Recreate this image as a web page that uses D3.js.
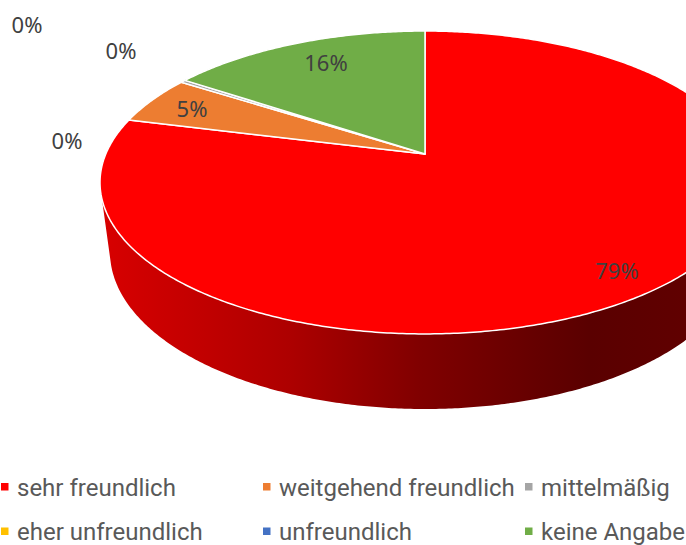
<!DOCTYPE html>
<html>
<head>
<meta charset="utf-8">
<script src="https://cdn.jsdelivr.net/npm/d3@7"></script>
<style>
  html, body { margin: 0; padding: 0; background: #fff; overflow: hidden; }
</style>
</head>
<body>
<div id="chart"></div>
<script>
// Chart data
const categories = ["sehr freundlich", "weitgehend freundlich", "mittelmäßig", "eher unfreundlich", "unfreundlich", "keine Angabe"];
const shares = [78.9, 5.2, 0.3, 0, 0, 15.6];
const colors = ["#ff0000", "#ed7d31", "#a5a5a5", "#ffc000", "#4472c4", "#70ad47"];

// Set up dimensions
const width = 686;
const height = 545;

// Top face is a circle seen in perspective, so the pie centre sits above the ellipse centre
const centerX = 425;
const centerY = 154;
const persp = 0.188;
const radiusX = 319.2;
const radiusY = 146.1;

// Lower rim of the side wall
const rimRx = 315;
const rimRy = 157;
const rimCy = 252;

// Where each data label sits (hand placed in the original)
const labelX = [617, 192, 67, 27, 121, 326];
const labelY = [271, 109, 141, 25, 51, 63];

// Legend layout
const legendX = [1, 263, 525];
const legendY = [487, 531.5];

const svg = d3.select("#chart")
  .append("svg")
    .attr("width", width)
    .attr("height", height)
    .style("display", "block");

const colorScale = d3.scaleOrdinal().domain(categories).range(colors);

// Angle is clockwise from 12 o'clock, like d3.pie
function topPoint(a) {
  const u = Math.sin(a), v = -Math.cos(a);
  const w = 1 - persp * v;
  return [centerX + radiusX * u / w, centerY + radiusY * v / w];
}

function rimPoint(a) {
  return [centerX + rimRx * Math.sin(a), rimCy - rimRy * Math.cos(a)];
}

const line = d3.line();

// Side wall gradient runs left to right
const wallStops = [
  [101, "#d80000"], [200, "#c20000"], [290, "#ad0000"],
  [420, "#800000"], [540, "#640000"], [590, "#5a0000"], [686, "#600000"]
];
const grad = svg.append("defs").append("linearGradient")
  .attr("id", "wall")
  .attr("gradientUnits", "userSpaceOnUse")
  .attr("x1", 101).attr("x2", 686)
  .attr("y1", 0).attr("y2", 0);
grad.selectAll("stop")
  .data(wallStops)
  .join("stop")
    .attr("offset", d => (d[0] - 101) / (686 - 101))
    .attr("stop-color", d => d[1]);

// Side wall: upper rim one way, lower rim back. The left end of the two rims differs
// because the lower rim is further from the viewer.
function sweep(from, to) {
  return d3.range(from, to, 0.01).concat([to]);
}
const wallFrom = Math.PI * 0.4;
const upperRim = sweep(wallFrom, Math.PI * 1.406).map(topPoint);
const lowerRim = sweep(wallFrom, Math.PI * 1.474).map(rimPoint).reverse();
svg.append("path")
  .attr("d", line(upperRim.concat(lowerRim)) + "Z")
  .attr("fill", "url(#wall)");

// Slices on the top face
const pie = d3.pie().sort(null).value(d => d.share);
const tableData = categories.map((name, i) => ({ name: name, share: shares[i] }));
const arcs = pie(tableData);

function slicePath(d) {
  const n = Math.max(2, Math.ceil((d.endAngle - d.startAngle) / 0.01));
  const pts = d3.range(n + 1).map(i => topPoint(d.startAngle + (d.endAngle - d.startAngle) * i / n));
  return line([[centerX, centerY]].concat(pts)) + "Z";
}

svg.append("g").selectAll("path")
  .data(arcs.filter(d => d.data.share > 0))
  .join("path")
    .attr("d", slicePath)
    .attr("fill", d => colorScale(d.data.name))
    .attr("stroke", "#fff")
    .attr("stroke-width", 1.5)
    .attr("stroke-linejoin", "round");

// Data labels
svg.append("g").selectAll("text")
  .data(arcs)
  .join("text")
    .attr("x", (d, i) => labelX[i])
    .attr("y", (d, i) => labelY[i])
    .attr("dy", "0.36em")
    .attr("text-anchor", "middle")
    .attr("font-family", "'Noto Sans', sans-serif")
    .attr("font-size", 22)
    .attr("fill", "#404040")
    .text(d => Math.round(d.data.share) + "%");

// Legend
const legend = svg.append("g").selectAll("g")
  .data(categories)
  .join("g")
    .attr("transform", (d, i) => `translate(${legendX[i % 3]},${legendY[Math.floor(i / 3)]})`);

legend.append("rect")
  .attr("x", 0)
  .attr("y", -4)
  .attr("width", 7.5)
  .attr("height", 7.5)
  .attr("fill", d => colorScale(d));

legend.append("text")
  .attr("x", 16)
  .attr("dy", "0.36em")
  .attr("font-family", "Roboto, sans-serif")
  .attr("font-size", 24)
  .attr("fill", "#595959")
  .text(d => d);
</script>
</body>
</html>
